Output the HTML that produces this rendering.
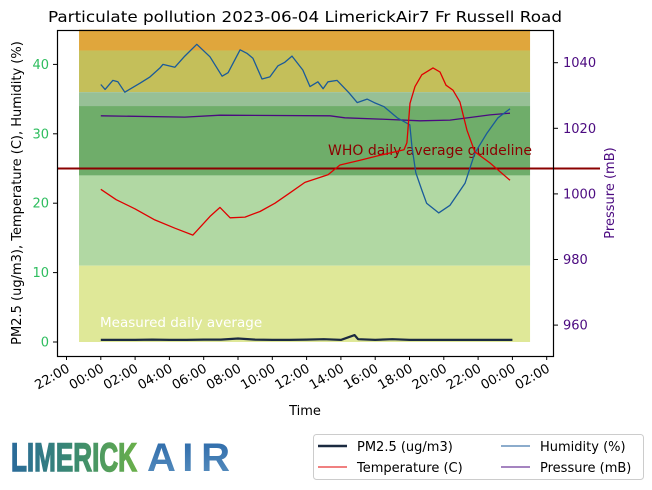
<!DOCTYPE html>
<html><head><meta charset="utf-8">
<style>
html,body{margin:0;padding:0;background:#fff;}
svg{display:block;font-family:"DejaVu Sans","Liberation Sans",sans-serif;}
</style></head>
<body>
<svg id="chart" width="652" height="490" viewBox="0 0 652 490">
<defs>
<linearGradient id="lg1" x1="0" x2="1" y1="0" y2="0">
<stop offset="0" stop-color="#2a6a9a"/><stop offset="0.5" stop-color="#3a8a70"/><stop offset="1" stop-color="#6ab04a"/>
</linearGradient>
<linearGradient id="lg2" x1="0" x2="0" y1="0" y2="1">
<stop offset="0" stop-color="#2a68a8"/><stop offset="1" stop-color="#5a90c0"/>
</linearGradient>
</defs>
<text x="305" y="22" text-anchor="middle" font-size="15.5" fill="#000" textLength="514" lengthAdjust="spacingAndGlyphs">Particulate pollution 2023-06-04 LimerickAir7 Fr Russell Road</text>
<g id="bands"></g>
<g id="series"></g>
<g id="axes"></g>
<g>
<text x="11" y="471" font-size="40" font-weight="bold" fill="url(#lg1)" stroke="url(#lg1)" stroke-width="1.5" textLength="126" lengthAdjust="spacingAndGlyphs" font-family="Liberation Sans Narrow, Liberation Sans, sans-serif">LIMERICK</text>
<text x="147" y="471" font-size="40" font-weight="bold" fill="url(#lg2)" textLength="83" lengthAdjust="spacing" font-family="Liberation Sans, sans-serif">A I R</text>
</g>
<g>
<rect x="313.5" y="434.5" width="330" height="45" rx="3" fill="#fff" stroke="#ccc"/>
<line x1="318" x2="347" y1="446" y2="446" stroke="#1b2a40" stroke-width="2.5"/>
<text x="357" y="451" font-size="13">PM2.5 (ug/m3)</text>
<line x1="318" x2="347" y1="467" y2="467" stroke="#e00000" stroke-width="1"/>
<text x="357" y="472" font-size="13">Temperature (C)</text>
<line x1="501" x2="530" y1="446" y2="446" stroke="#1a5a9a" stroke-width="1"/>
<text x="540" y="451" font-size="13">Humidity (%)</text>
<line x1="501" x2="530" y1="467" y2="467" stroke="#4b0a80" stroke-width="1"/>
<text x="540" y="472" font-size="13">Pressure (mB)</text>
</g>
</svg>
<script>
// data (hours since 00:00)
const humHours=[0,0.25,0.7,1.0,1.4,2.3,2.87,3.45,3.62,4.32,4.9,5.6,6.37,7.07,7.42,8.12,8.52,8.87,9.4,9.86,10.33,10.73,11.15,11.78,12.2,12.66,12.96,13.25,13.78,14.48,14.95,15.53,15.94,16.52,17.28,18.02,18.14,18.37,18.72,19.0,19.7,20.36,21.24,21.81,22.52,23.16,23.86];
const humVals=[37.1,36.4,37.7,37.5,36.0,37.3,38.2,39.5,40.0,39.6,41.2,42.9,41.1,38.3,38.8,42.1,41.6,40.9,37.9,38.2,39.8,40.3,41.2,39.2,36.8,37.5,36.5,37.5,37.7,35.9,34.5,35.0,34.5,33.9,32.3,31.3,28.2,24.4,21.9,20.0,18.6,19.7,22.9,27.2,30.1,32.3,33.6];
const tempHours=[0,0.9,1.99,3.15,4.32,5.37,6.37,6.95,7.54,8.41,9.28,10.16,11.03,11.9,13.25,13.95,15.12,16.28,17.68,17.85,18.03,18.32,18.72,19.37,19.78,20.13,20.53,20.94,21.35,21.81,22.69,23.86];
const tempVals=[22.0,20.5,19.2,17.6,16.4,15.4,18.1,19.4,17.9,18.0,18.8,20.0,21.5,23.0,24.1,25.5,26.2,26.9,27.7,28.7,34.4,36.8,38.5,39.5,38.9,37.0,36.3,34.6,30.5,27.4,25.8,23.3];
const presHours=[0,4.9,6.95,13.37,14.23,16.28,18.61,20.36,21.53,22.69,23.86];
const presVals=[1023.8,1023.4,1024.0,1023.8,1023.2,1022.8,1022.3,1022.5,1023.3,1024.1,1024.6];
const pmHours=[0,1,2,3,4,5,6,7,8,9,10,11,12,13,14,14.8,15,16,17,18,19,20,21,22,23,24];
const pmVals=[0.3,0.3,0.3,0.35,0.3,0.3,0.35,0.35,0.5,0.35,0.3,0.3,0.35,0.4,0.3,1.0,0.4,0.3,0.4,0.3,0.3,0.3,0.3,0.3,0.3,0.3];
const bandLow=[42,36,34,24,11,0];
const bandHigh=[45,42,36,34,24,11];
const bandColors=["#e0a63c","#c4bf5a","#97c096","#6fad6a","#b1d8a3","#dfe898"];
const leftTicks=[0,10,20,30,40];
const rightTicks=[960,980,1000,1020,1040];
const xTickHours=[-2,0,2,4,6,8,10,12,14,16,18,20,22,24,26];
const xTickLabels=["22:00","00:00","02:00","04:00","06:00","08:00","10:00","12:00","14:00","16:00","18:00","20:00","22:00","00:00","02:00"];
const whoLevel=25;

const L=57,R=553,T=30,B=356;
const X=h=>100.8+h*17.15;
const Y=v=>342-v*6.94;
const YP=p=>62.7-(p-1040)*3.28;
const NS="http://www.w3.org/2000/svg";
function mk(tag,attrs,parent){const e=document.createElementNS(NS,tag);for(const k in attrs)e.setAttribute(k,attrs[k]);parent.appendChild(e);return e;}
const bands=document.getElementById('bands'),ser=document.getElementById('series'),ax=document.getElementById('axes');
for(let i=0;i<bandLow.length;i++){
 const r=mk('rect',{x:X(-1.27),width:X(25.03)-X(-1.27),y:Y(bandHigh[i]),height:Y(bandLow[i])-Y(bandHigh[i]),fill:bandColors[i]},bands);
 
 
}
const who=mk('line',{x1:L,x2:R+47,y1:Y(whoLevel),y2:Y(whoLevel),stroke:'#8b0000','stroke-width':2},ser);


const wt=mk('text',{x:328,y:155,'font-size':14,fill:'#8b0000'},ser);wt.textContent='WHO daily average guideline';


const mt=mk('text',{x:100,y:327,'font-size':13.5,fill:'#fff'},ser);mt.textContent='Measured daily average';


function line(hs,vs,fy,color,w,name){
 const d=hs.map((h,i)=>(i?'L':'M')+X(h).toFixed(1)+','+fy(vs[i]).toFixed(1)).join('');
 const p=mk('path',{d:d,fill:'none',stroke:color,'stroke-width':w,'stroke-linejoin':'round'},ser);
 
 
}
line(presHours,presVals,YP,'#4b0a80',1.3,'pressure-line');
line(humHours,humVals,Y,'#1a5a9a',1.3,'humidity-line');
line(tempHours,tempVals,Y,'#e00000',1.3,'temperature-line');
line(pmHours,pmVals,Y,'#1b2a40',2.2,'pm25-line');
const fr=mk('rect',{x:L+0.5,y:T+0.5,width:R-L,height:B-T,fill:'none',stroke:'#000','stroke-width':1.2},ax);


leftTicks.forEach(v=>{
 mk('line',{x1:L-4,x2:L,y1:Y(v),y2:Y(v),stroke:'#000'},ax);
 const t=mk('text',{x:L-8,y:Y(v)+4.5,'font-size':13,fill:'#2ebd5e','text-anchor':'end'},ax);t.textContent=v;
 
 
});
rightTicks.forEach(v=>{
 mk('line',{x1:R+0.5,x2:R+5,y1:YP(v),y2:YP(v),stroke:'#000'},ax);
 const t=mk('text',{x:R+10,y:YP(v)+4.5,'font-size':13,fill:'#4b0a80'},ax);t.textContent=v;
 
 
});
xTickHours.forEach((h,i)=>{
 mk('line',{x1:X(h),x2:X(h),y1:B,y2:B+4,stroke:'#000'},ax);
 const t=mk('text',{x:X(h)+4,y:B+15,'font-size':13,'text-anchor':'end',transform:'rotate(-30 '+(X(h)+4)+' '+(B+15)+')'},ax);t.textContent=xTickLabels[i];
 
 
});
const xl=mk('text',{x:305,y:415,'font-size':13,'text-anchor':'middle'},ax);xl.textContent='Time';


const yl=mk('text',{x:0,y:0,'font-size':13,'text-anchor':'middle',transform:'translate(21,193) rotate(-90)'},ax);yl.textContent='PM2.5 (ug/m3), Temperature (C), Humidity (%)';


const yr=mk('text',{x:0,y:0,'font-size':13,'text-anchor':'middle',fill:'#4b0a80',transform:'translate(614,193) rotate(-90)'},ax);yr.textContent='Pressure (mB)';


</script>
</body></html>
